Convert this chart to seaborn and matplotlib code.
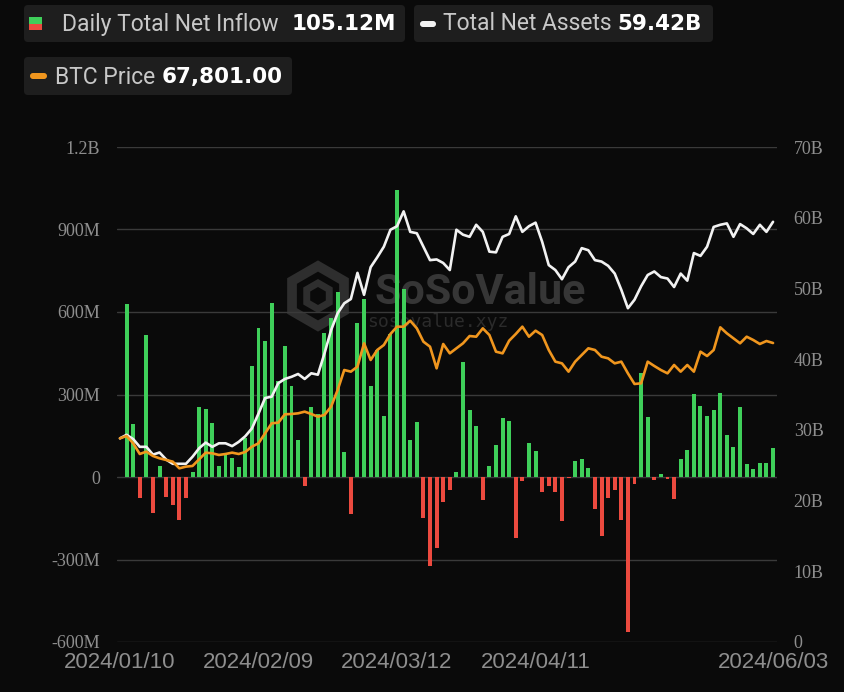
import numpy as np
import pandas as pd
import matplotlib.pyplot as plt
import seaborn as sns
from matplotlib.patches import FancyBboxPatch, Rectangle, RegularPolygon

# trading days shown on the x axis (US market holidays removed)
holidays = ["2024-01-15", "2024-02-19", "2024-03-29", "2024-05-27"]
dates = pd.bdate_range("2024-01-10", "2024-06-03", freq="C", holidays=holidays)

# daily total net inflow, millions USD
net_inflow_m = [
    0, 629, 191, -76, 517, -131, 41, -73, -100, -155,
    -75, 17, 256, 247, 198, 40, 81, 70, 35, 143,
    403, 542, 493, 631, 350, 478, 331, 135, -32, 253,
    230, 523, 577, 673, 92, -136, 561, 648, 332, 462,
    223, 520, 1045, 684, 133, 200, -150, -322, -257, -90,
    -48, 18, 418, 245, 184, -84, 40, 115, 215, 205,
    -221, -16, 125, 93, -53, -33, -54, -161, -2, 60,
    64, 33, -117, -214, -76, -48, -157, -563, -26, 379,
    217, -12, 12, -8, -81, 67, 100, 301, 258, 222,
    242, 306, 154, 109, 253, 46, 28, 51, 51, 105.12,
]

# total net assets, billions USD
total_assets_b = [
    28.8, 29.3, 28.7, 27.6, 27.6, 26.5, 26.8, 25.8, 25.2, 25.2,
    25.2, 26.2, 27.4, 28.2, 27.6, 28.1, 28.1, 27.7, 28.3, 29.1,
    30.2, 32.3, 34.5, 34.7, 36.6, 37.2, 37.5, 37.9, 37.2, 38.0,
    37.8, 40.8, 44.1, 46.5, 47.9, 48.5, 52.2, 49.1, 53.0, 54.4,
    55.9, 58.3, 58.8, 60.9, 58.0, 57.8, 55.9, 54.0, 54.1, 53.6,
    52.6, 58.3, 57.6, 57.3, 59.0, 58.0, 55.2, 55.1, 57.3, 57.7,
    60.2, 58.0, 58.8, 59.3, 56.6, 53.3, 52.6, 51.3, 53.0, 53.8,
    55.7, 55.4, 54.0, 53.8, 53.2, 52.1, 49.8, 47.2, 48.4, 50.3,
    51.9, 52.4, 51.6, 51.4, 50.2, 52.1, 51.1, 55.0, 54.6, 55.9,
    58.7, 59.0, 59.2, 57.3, 59.1, 58.5, 57.7, 59.0, 58.0, 59.42,
]

# BTC price, USD
btc_price = [
    46240, 46760, 45110, 42690, 43220, 42240, 41710, 41340, 40960, 39450,
    39830, 39980, 41490, 42990, 42840, 42470, 42690, 42990, 42690, 43150,
    44350, 45110, 47370, 49630, 49780, 51670, 51740, 51890, 52270, 51740,
    51140, 51520, 53400, 57170, 61690, 61320, 62450, 67730, 63960, 66220,
    67350, 69840, 71500, 71500, 72850, 71120, 68100, 66970, 62070, 67580,
    65460, 66600, 67730, 69380, 69230, 71120, 69610, 65840, 65460, 68330,
    69840, 71500, 69230, 70590, 69610, 66220, 63580, 63200, 61320, 63580,
    65090, 66600, 66220, 64710, 64330, 63200, 63580, 60940, 58530, 58680,
    63580, 62600, 61690, 60940, 62830, 61320, 62830, 61320, 65840, 64860,
    66220, 71350, 69990, 68860, 67730, 69230, 68480, 67580, 68250, 67801,
]

df = pd.DataFrame({
    "day": np.arange(len(dates)),
    "inflow": net_inflow_m,
    "assets": total_assets_b,
    "btc": btc_price,
})
df["sign"] = np.where(df["inflow"] >= 0, "in", "out")

bg = "#0a0a0a"
green = "#3fcf5a"
red = "#ec4a3f"
white = "#f2f2f2"
orange = "#f0961e"
grid_c = "#3a3a3a"
tick_c = "#8e8e8e"

sns.set_theme(style="dark")
plt.rcParams["font.family"] = ["Roboto", "DejaVu Sans"]

W, H = 845, 692
fig = plt.figure(figsize=(W / 100, H / 100), dpi=100, facecolor=bg)

# background layer in pixel coordinates: watermark + legend chips
bgax = fig.add_axes([0, 0, 1, 1], zorder=-1)
bgax.set_xlim(0, W)
bgax.set_ylim(H, 0)
bgax.axis("off")
bgax.set_facecolor(bg)

# plot area
ax = fig.add_axes([117 / W, 1 - 642 / H, 660 / W, 495 / H])
ax.set_facecolor("none")
sns.barplot(data=df, x="day", y="inflow", hue="sign",
            palette={"in": green, "out": red}, native_scale=True,
            width=0.6, dodge=False, saturation=1, legend=False,
            edgecolor="none", linewidth=0, ax=ax)
ax.set_xlim(-0.45, 99.6)
ax.set_ylim(-600, 1200)

left_ticks = list(range(-600, 1201, 300))


def fmt_m(v):
    if v == 0:
        return "0"
    if abs(v) >= 1000:
        return f"{v / 1000:g}B"
    return f"{v}M"


ax.set_yticks(left_ticks)
ax.set_yticklabels([fmt_m(v) for v in left_ticks], family="Liberation Serif")
ax.yaxis.grid(True, color=grid_c, lw=1)
ax.xaxis.grid(False)
ax.set_axisbelow(True)
for s in ax.spines.values():
    s.set_visible(False)

n = len(dates)
tick_pos = [p for p in range(0, n, 21) if n - 1 - p > 16] + [n - 1]
ax.set_xticks(tick_pos)
ax.set_xticklabels([dates[p].strftime("%Y/%m/%d") for p in tick_pos],
                   family=["Liberation Sans Narrow", "Liberation Sans"], fontsize=16)
ax.tick_params(axis="x", length=0, colors=tick_c, pad=7)
ax.tick_params(axis="y", length=0, colors=tick_c, labelsize=13, pad=12)
ax.set_xlabel("")
ax.set_ylabel("")

# total net assets (right axis)
ax2 = ax.twinx()
sns.lineplot(data=df, x="day", y="assets", color=white, lw=1.9, ax=ax2)
ax2.set_ylim(0, 70)
right_ticks = list(range(0, 71, 10))
ax2.set_yticks(right_ticks)
ax2.set_yticklabels(["0" if v == 0 else f"{v}B" for v in right_ticks], family="Liberation Serif")
ax2.tick_params(axis="y", length=0, colors=tick_c, labelsize=13, pad=12)
ax2.grid(False)
ax2.set_ylabel("")
ax2.set_facecolor("none")
for s in ax2.spines.values():
    s.set_visible(False)

# BTC price (hidden axis)
ax3 = ax.twinx()
sns.lineplot(data=df, x="day", y="btc", color=orange, lw=1.9, ax=ax3)
ax3.set_ylim(150, 112150)
ax3.set_xlim(-0.45, 99.6)
ax3.axis("off")

# watermark
bgax.add_patch(RegularPolygon((318, 296), 6, radius=30, fill=False,
                              ec="#2e2e2e", lw=7))
bgax.add_patch(RegularPolygon((318, 296), 6, radius=13, fill=False,
                              ec="#2e2e2e", lw=5))
bgax.text(480, 292, "SoSoValue", color="#363636", fontsize=31,
          fontweight="bold", ha="center", va="center")
bgax.text(438, 322, "sosovalue.xyz", color="#2b2b2b", fontsize=13,
          family="DejaVu Sans Mono", ha="center", va="center")


def chip(x0, y0, x1, y1):
    bgax.add_patch(FancyBboxPatch((x0, y0), x1 - x0, y1 - y0,
                                  boxstyle="round,pad=0,rounding_size=4",
                                  fc="#1e1e1e", ec="none"))


label_c = "#c8c8c8"
lab_fs = 16.5
num_kw = dict(color="white", fontsize=15.5, fontweight="bold", va="center",
              family="DejaVu Sans")

chip(24, 5, 405, 42)
bgax.add_patch(Rectangle((29, 17), 13, 6.5, color=green, lw=0))
bgax.add_patch(Rectangle((29, 23.5), 13, 6.5, color=red, lw=0))
bgax.text(62, 24, "Daily Total Net Inflow", color=label_c, fontsize=lab_fs, va="center")
bgax.text(292, 24, "105.12M", **num_kw)

chip(414, 5, 713, 42)
bgax.add_patch(FancyBboxPatch((420, 21), 16, 6, boxstyle="round,pad=0,rounding_size=3",
                              fc=white, ec="none"))
bgax.text(443, 24, "Total Net Assets", color=label_c, fontsize=lab_fs, va="center")
bgax.text(617, 24, "59.42B", **num_kw)

chip(24, 57, 292, 95)
bgax.add_patch(FancyBboxPatch((30, 73), 17, 6, boxstyle="round,pad=0,rounding_size=3",
                              fc=orange, ec="none"))
bgax.text(55, 77, "BTC Price", color=label_c, fontsize=lab_fs, va="center")
bgax.text(162, 77, "67,801.00", **num_kw)

fig.savefig("out.png", dpi=100, facecolor=bg)
